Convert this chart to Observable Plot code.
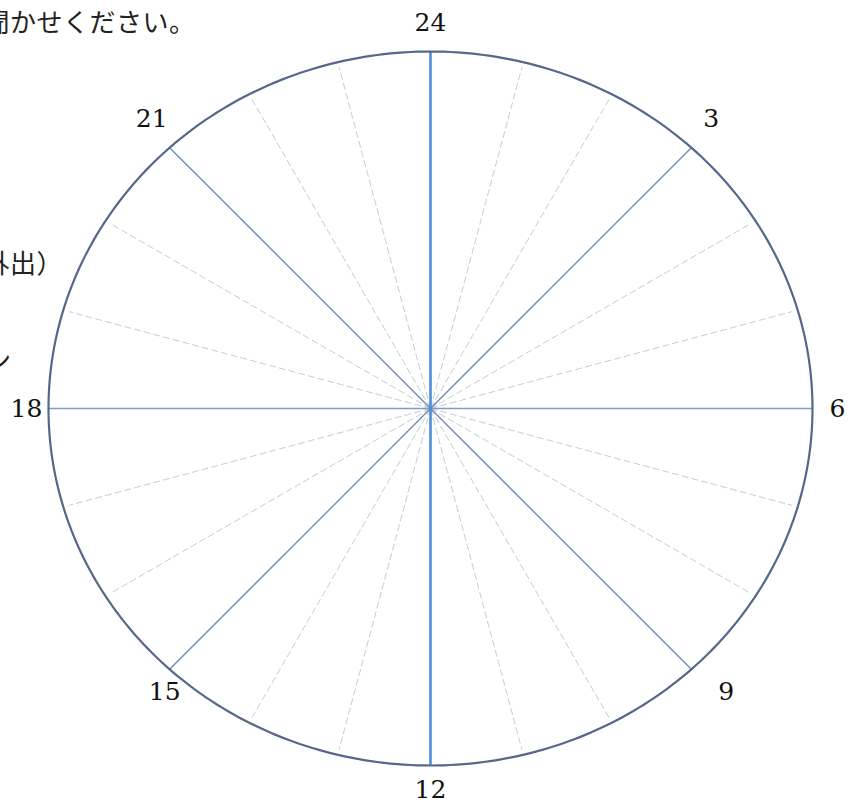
<!DOCTYPE html>
<html>
<head>
<meta charset="utf-8">
<script src="https://cdn.jsdelivr.net/npm/d3@7"></script>
<script src="https://cdn.jsdelivr.net/npm/@observablehq/plot@0.6"></script>
<style>
  body { margin: 0; background: #fff; }
  #wrap { position: relative; width: 860px; height: 805px; overflow: hidden; }
  .note { position: absolute; font-family: "Noto Sans CJK JP", sans-serif; font-size: 26px; line-height: 26px; letter-spacing: 0.5px; white-space: nowrap; color: #222; }
  svg { display: block; }
</style>
</head>
<body>
<div id="wrap">
  <div class="note" style="left:-43px; top:8px;">お聞かせください。</div>
  <div class="note" style="left:-43px; top:249px;">（外出）</div>
  <div class="note" style="left:-15px; top:346px;">ン</div>
</div>
<script>
// 24-hour clock face: one spoke per hour, major spokes every 3 hours
const hours = [0,1,2,3,4,5,6,7,8,9,10,11,12,13,14,15,16,17,18,19,20,21,22,23];
const majorHours = [0,3,6,9,12,15,18,21];
const tickLabels = ["24","3","6","9","12","15","18","21"];

// geometry of the (slightly squashed) dial
const RX = 382, RY = 357;          // dial half-width / half-height
const LRX = 409, LRY = 386;        // label ring
const degPerHour = 15;
// small per-label nudges (px) to follow the original's placement
const nudgeX = [0, 0, -2, 15, 0, 15, 5, 2];
const nudgeY = [0, -9, 0, 3, -5, 3, 0, -9];

function radiusAt(theta, rx, ry) {
  const s = Math.sin(theta), c = Math.cos(theta);
  return 1 / Math.sqrt((s / rx) ** 2 + (c / ry) ** 2);
}
function pt(h, rx, ry, f = 1) {
  const t = h * degPerHour * Math.PI / 180;
  const r = radiusAt(t, rx, ry) * f;
  return {x: r * Math.sin(t), y: r * Math.cos(t)};
}

const minor = hours.filter(h => h % 3 !== 0).map(h => ({h, ...pt(h, RX, RY, 0.985)}));
const diag = [3, 9, 15, 21].map(h => ({h, ...pt(h, RX, RY)}));
const vert = [0, 12].map(h => ({h, ...pt(h, RX, RY)}));
const horiz = [6, 18].map(h => ({h, ...pt(h, RX, RY)}));
const labels = majorHours.map((h, i) => {
  const p = pt(h, LRX, LRY);
  return {label: tickLabels[i], x: p.x + nudgeX[i], y: p.y - nudgeY[i]};
});
const outline = d3.range(0, 361, 1).map(a => ({x: RX * Math.sin(a * Math.PI / 180), y: RY * Math.cos(a * Math.PI / 180)}));

const chart = Plot.plot({
  width: 860,
  height: 805,
  margin: 0,
  x: {domain: [-430, 430], axis: null},
  y: {domain: [-397, 408], axis: null},
  marks: [
    Plot.link(minor, {x1: 0, y1: 0, x2: "x", y2: "y", stroke: "#c6cbd4", strokeWidth: 1, strokeDasharray: "7,3"}),
    Plot.link(horiz, {x1: 0, y1: 0, x2: "x", y2: "y", stroke: "#7f9dc6", strokeWidth: 1.6}),
    Plot.link(diag, {x1: 0, y1: 0, x2: "x", y2: "y", stroke: "#6a87b4", strokeWidth: 1.3}),
    Plot.link(vert, {x1: 0, y1: 0, x2: "x", y2: "y", stroke: "#4a8fd8", strokeWidth: 2.6}),
    Plot.line(outline, {x: "x", y: "y", stroke: "#56688a", strokeWidth: 2.2, curve: "linear-closed"}),
    Plot.text(labels, {x: "x", y: "y", text: "label", fontSize: 25, fill: "#111", fontFamily: "DejaVu Serif"})
  ]
});
document.getElementById("wrap").prepend(chart);
chart.style.position = "absolute";
chart.style.left = "0";
chart.style.top = "0";
</script>
</body>
</html>
